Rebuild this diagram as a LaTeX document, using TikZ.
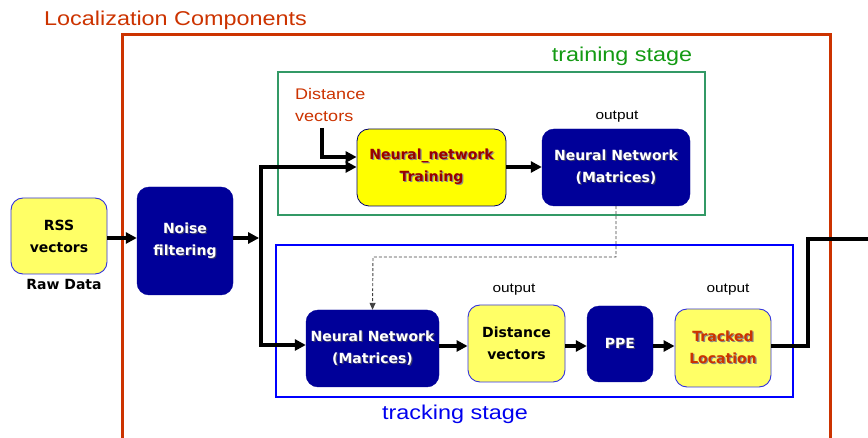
\documentclass[tikz,border=0pt]{standalone}
\usepackage{fontspec}
\setmainfont{DejaVu Sans}
\newfontfamily\arialx[FakeStretch=1.17]{Liberation Sans}
\usetikzlibrary{arrows.meta}

\definecolor{navyfill}{HTML}{000099}
\definecolor{lightyel}{HTML}{FFFF66}
\definecolor{brightyel}{HTML}{FFFF00}
\definecolor{yelborder}{HTML}{3333DD}
\definecolor{framered}{HTML}{CC3300}
\definecolor{darkredtxt}{HTML}{990000}
\definecolor{trgreen}{HTML}{339966}
\definecolor{trgreentxt}{HTML}{139A13}
\definecolor{trblue}{HTML}{0000FF}
\definecolor{trbluetxt}{HTML}{0000EE}
\definecolor{shadowgray}{HTML}{8A8A8A}
\definecolor{shadownavy}{HTML}{3A3A6A}

% text with a small drop shadow: {shadow colour}{text colour}{text}
\newcommand\shtxt[3]{\rlap{\hspace{1.2pt}\raisebox{-1.2pt}{\textcolor{#1}{#3}}}\textcolor{#2}{#3}}

\newcommand\boxfont{\bfseries\fontsize{14}{22}\selectfont}

\begin{document}
\begin{tikzpicture}[x=1pt,y=-1pt,
  boxbase/.style={rounded corners=12pt, align=center, inner sep=0pt, font=\boxfont},
  navybox/.style={boxbase, fill=navyfill, draw=navyfill, text=white},
  yelbox/.style={boxbase, fill=lightyel, draw=yelborder, line width=0.9pt, text=black},
  flow/.style={line width=3.8pt, -{Triangle[length=11pt,width=11pt]}},
  thickline/.style={line width=3.8pt},
  dashline/.style={line width=0.9pt, draw=black!75, dash pattern=on 3pt off 2pt,
                   -{Triangle[length=7pt,width=6pt]}},
  outlbl/.style={font=\arialx\fontsize{13.2}{16}\selectfont, inner sep=0pt},
  stagelbl/.style={font=\arialx\fontsize{20}{24}\selectfont, inner sep=0pt}
]
\useasboundingbox (0,0) rectangle (868,438);
\clip (0,0) rectangle (868,438);

% outer component frame and the two stage frames
\draw[framered, line width=3pt] (122,450) -- (122,35) -- (830,35) -- (830,450);
\draw[trgreen, line width=1.8pt] (278,72) rectangle (705,215);
\draw[trblue, line width=1.8pt] (276,245) rectangle (793,397);

\node[stagelbl, text=framered, anchor=base west] (title) at (44,26) {Localization Components};
\node[stagelbl, text=trgreentxt, anchor=base] (trainlbl) at (622,62) {training stage};
\node[stagelbl, text=trbluetxt, anchor=base] (tracklbl) at (455,420) {tracking stage};

% input side
\node[yelbox, minimum width=96pt, minimum height=76pt] (rss) at (59,236) {RSS\\vectors};
\node[font=\boxfont, inner sep=0pt, anchor=base] (raw) at (64,290) {Raw Data};
\node[navybox, minimum width=96pt, minimum height=108pt] (noise) at (185,241)
  {\shtxt{shadownavy}{white}{Noise}\\\shtxt{shadownavy}{white}{filtering}};

% training stage
\node[boxbase, fill=brightyel, draw=navyfill!70!black, line width=0.8pt,
      minimum width=149pt, minimum height=77pt] (train) at (431.5,167.5)
  {\shtxt{shadowgray}{darkredtxt}{Neural\_network}\\\shtxt{shadowgray}{darkredtxt}{Training}};
\node[navybox, minimum width=148pt, minimum height=77pt] (nnt) at (616,167.5)
  {\shtxt{shadownavy}{white}{Neural Network}\\\shtxt{shadownavy}{white}{(Matrices)}};
\node[outlbl, anchor=base] (outt) at (617,120) {output};
\node[font=\arialx\fontsize{15.4}{21.5}\selectfont, text=framered, align=left,
      inner sep=0pt, anchor=north west] (dlbl) at (295,88.5) {Distance\\vectors};

% tracking stage
\node[navybox, minimum width=133pt, minimum height=77pt] (nnb) at (372.5,348.5)
  {\shtxt{shadownavy}{white}{Neural Network}\\\shtxt{shadownavy}{white}{(Matrices)}};
\node[yelbox, minimum width=97pt, minimum height=77pt] (dv) at (516.5,343.5) {Distance\\vectors};
\node[navybox, minimum width=66pt, minimum height=76pt] (ppe) at (620,344)
  {\shtxt{shadownavy}{white}{PPE}};
\node[yelbox, minimum width=96pt, minimum height=78pt] (tl) at (723,348)
  {\shtxt{shadowgray}{framered}{Tracked}\\\shtxt{shadowgray}{framered}{Location}};
\node[outlbl, anchor=base] (outdv) at (514,293) {output};
\node[outlbl, anchor=base] (outtl) at (728,293) {output};

% junction points of the connectors
\coordinate (jin) at (261,238);
\coordinate (jt) at (261,167);
\coordinate (jb) at (261,345);
\coordinate (row) at (0,346);
\coordinate (dtop) at (322,128);
\coordinate (dk) at (322,157);
\coordinate (dd) at (373,257);
\coordinate (o1) at (808,239);
\coordinate (oend) at (872,239);

% connectors
\draw[flow] (rss.east |- jin) -- (noise.west |- jin);
\draw[flow] (noise.east |- jin) -- ([xshift=-1.9pt]jin);
\draw[flow] (jb) -- (jt) -- (train.west |- jt);
\draw[flow] (jt) -- (jb) -- (nnb.west |- jb);
\draw[flow] (dtop) -- (dk) -- (dk -| train.west);
\draw[flow] (train.east |- jt) -- (nnt.west |- jt);
\draw[dashline] (nnt.south) |- (dd) -- (nnb.north);
\draw[flow] (nnb.east |- row) -- (dv.west |- row);
\draw[flow] (dv.east |- row) -- (ppe.west |- row);
\draw[flow] (ppe.east |- row) -- (tl.west |- row);
\draw[thickline] (tl.east |- row) -| (o1) -- (oend);
\end{tikzpicture}
\end{document}
